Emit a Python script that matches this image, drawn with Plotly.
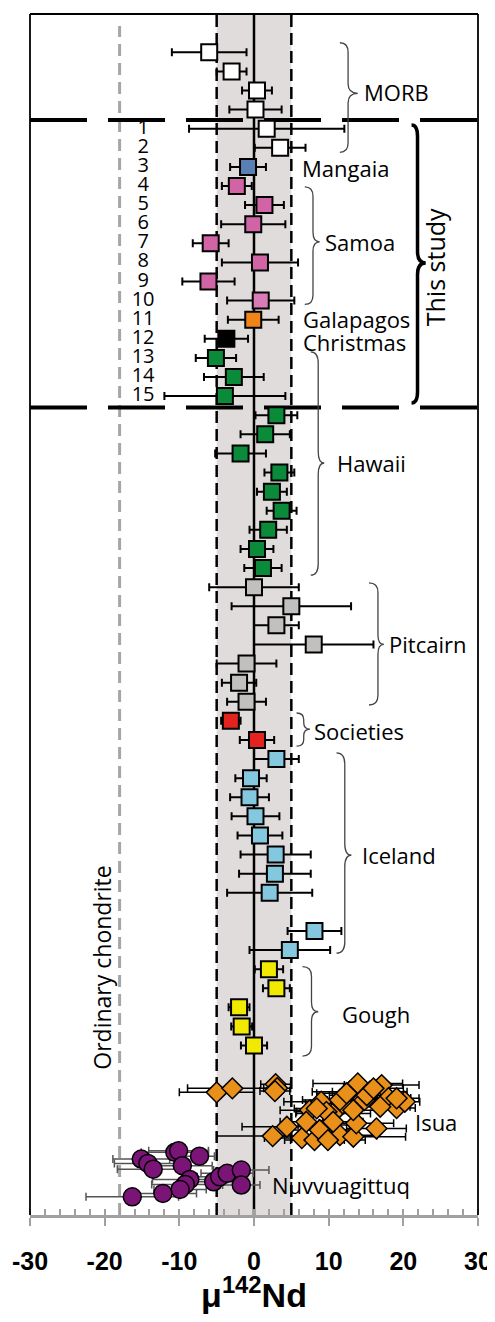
import plotly.graph_objects as go

# ---------------- data (x = mu142Nd, row = vertical position, err = 2SD) -------------
morb_x = [-6.0, -3.0, 0.4, 0.2, 1.7, 3.5]
morb_row = [0, 1, 2, 3, 4, 5]
morb_err = [5.0, 2.0, 2.0, 3.5, 10.4, 3.4]

mangaia_x = [-0.8]
mangaia_row = [6]
mangaia_err = [2.4]

samoa_x = [-2.3, 1.4, -0.1, -5.8, 0.8, -6.1, 0.9]
samoa_row = [7, 8, 9, 10, 11, 12, 13]
samoa_err = [2.0, 2.6, 4.3, 2.4, 5.1, 3.5, 4.5]

galapagos_x = [-0.1]
galapagos_row = [14]
galapagos_err = [3.4]

christmas_x = [-3.7]
christmas_row = [15]
christmas_err = [2.9]

hawaii_x = [-5.1, -2.7, -3.9, 3.0, 1.5, -1.8, 3.4, 2.4, 3.7, 1.9, 0.4, 1.2]
hawaii_row = [16, 17, 18, 19, 20, 21, 22, 23, 24, 25, 26, 27]
hawaii_err = [2.7, 4.0, 8.1, 2.8, 3.3, 3.4, 2.0, 2.0, 2.0, 2.5, 2.2, 2.5]

pitcairn_x = [0.0, 5.0, 3.0, 8.0, -1.0, -2.0, -1.0]
pitcairn_row = [28, 29, 30, 31, 32, 33, 34]
pitcairn_err = [6.0, 8.0, 3.0, 8.0, 4.0, 2.3, 2.6]

societies_x = [-3.1, 0.4]
societies_row = [35, 36]
societies_err = [1.3, 2.3]

iceland_x = [3.0, -0.4, -0.6, 0.2, 0.8, 2.9, 2.8, 2.1, 8.1, 4.8]
iceland_row = [37, 38, 39, 40, 41, 42, 43, 44, 46, 47]
iceland_err = [3.0, 2.1, 2.6, 3.2, 3.0, 4.7, 4.8, 5.7, 3.6, 5.4]

gough_x = [2.0, 3.0, -2.0, -1.65, 0.0]
gough_row = [48, 49, 50, 51, 52]
gough_err = [1.9, 1.8, 1.4, 1.4, 1.75]

isua_x = [-5.0, -2.9, 2.9, 3.1, 2.8, 2.5, 4.4, 6.4, 7.5, 9.0, 8.1, 11.5, 13.3, 16.4,
          12.8, 13.9, 17.1, 18.0, 19.1, 20.2, 16.9, 15.5, 10.6, 9.9, 11.9, 13.7, 14.8,
          8.8, 7.0, 13.3, 9.9, 9.7, 11.5, 12.4, 8.4, 10.6, 15.1, 16.0, 19.1]
isua_row = [54.45, 54.24, 54.02, 54.23, 54.38, 56.74, 56.25, 56.84, 55.38, 54.94, 56.95,
            56.69, 56.77, 56.34, 54.42, 53.98, 54.07, 54.75, 55.27, 54.94, 55.20, 54.42,
            55.55, 56.16, 55.03, 56.07, 54.85, 56.42, 55.99, 55.38, 56.95, 55.47, 54.85,
            54.50, 55.29, 55.99, 54.60, 54.24, 54.76]
isua_err = [5.0, 6.0, 2.0, 1.8, 2.0, 7.5, 6.0, 5.0, 4.0, 5.0, 4.0, 5.0, 7.0, 4.0,
            5.0, 6.0, 5.0, 3.0, 2.5, 2.0, 4.0, 5.0, 5.0, 4.0, 5.0, 5.0, 5.0,
            4.0, 3.5, 4.0, 5.0, 4.0, 5.0, 4.0, 3.0, 4.0, 5.0, 4.0, 3.0]

nuv_x = [-15.1, -14.2, -13.5, -10.6, -10.1, -7.3, -9.6, -8.6, -9.2, -9.9, -12.2, -16.3,
         -5.4, -4.6, -3.6, -1.7, -1.7]
nuv_row = [57.94, 58.17, 58.47, 57.59, 57.51, 57.79, 58.29, 59.01, 59.27, 59.53, 59.74,
           59.92, 59.13, 58.87, 58.69, 58.52, 59.30]
nuv_err = [3.8, 4.5, 4.8, 4.5, 4.0, 2.0, 4.0, 5.0, 4.5, 3.5, 4.5, 6.2, 2.5, 3.0, 3.5, 3.7, 2.5]

sample_numbers = [str(i) for i in range(1, 16)]
sample_rows = list(range(4, 19))

x_ticks = [-30, -20, -10, 0, 10, 20, 30]
chondrite_value = -18
terrestrial_band = (-5, 5)

# ---------------- figure -------------------------------------------------------------
fig = go.Figure()


def squares(x, row, err, color):
    fig.add_trace(go.Scatter(
        x=x, y=row, mode="markers",
        marker=dict(symbol="square", size=16, color=color,
                    line=dict(color="black", width=2)),
        error_x=dict(type="data", array=err, color="black", thickness=2, width=4),
        showlegend=False, hoverinfo="skip"))


squares(morb_x, morb_row, morb_err, "white")
squares(mangaia_x, mangaia_row, mangaia_err, "#5a7fb3")
squares(samoa_x, samoa_row, samoa_err,
        ["#d064a5"] * 6 + ["#d97bb6"])
squares(galapagos_x, galapagos_row, galapagos_err, "#ef8518")
squares(christmas_x, christmas_row, christmas_err, "black")
squares(hawaii_x, hawaii_row, hawaii_err, "#0b8a3a")
squares(pitcairn_x, pitcairn_row, pitcairn_err, "#c2bfbf")
squares(societies_x, societies_row, societies_err, "#e2231f")
squares(iceland_x, iceland_row, iceland_err, "#84c8df")
squares(gough_x, gough_row, gough_err, "#f1ea00")

fig.add_trace(go.Scatter(
    x=isua_x, y=isua_row, mode="markers",
    marker=dict(symbol="diamond", size=16, color="#e8901a",
                line=dict(color="black", width=1.5)),
    error_x=dict(type="data", array=isua_err, color="black", thickness=1.5, width=4),
    showlegend=False, hoverinfo="skip"))

fig.add_trace(go.Scatter(
    x=nuv_x, y=nuv_row, mode="markers",
    marker=dict(symbol="circle", size=18, color="#7a1477",
                line=dict(color="black", width=1.5)),
    error_x=dict(type="data", array=nuv_err, color="#555555", thickness=1.5, width=4),
    showlegend=False, hoverinfo="skip"))

# sample numbers
fig.add_trace(go.Scatter(
    x=[-14.85] * len(sample_numbers), y=sample_rows, mode="text",
    text=sample_numbers, textposition="middle center",
    textfont=dict(family="Open Sans", size=20, color="black"),
    showlegend=False, hoverinfo="skip"))

# ---------------- shapes ------------------------------------------------------------
shapes = []
# horizontal "this study" dashed separators
for yy in (3.54, 18.6):
    shapes.append(dict(type="line", xref="x", yref="y", x0=-30, x1=30, y0=yy, y1=yy,
                       line=dict(color="black", width=4, dash="57px,21px"), layer="below"))
# terrestrial band
shapes.append(dict(type="rect", xref="x", yref="paper", x0=terrestrial_band[0],
                   x1=terrestrial_band[1], y0=0, y1=1, fillcolor="#e0dcdc",
                   line=dict(width=0), layer="below"))
for xx in terrestrial_band:
    shapes.append(dict(type="line", xref="x", yref="paper", x0=xx, x1=xx, y0=0, y1=1,
                       line=dict(color="black", width=2.5, dash="12px,6px"), layer="below"))
shapes.append(dict(type="line", xref="x", yref="paper", x0=0, x1=0, y0=0, y1=1,
                   line=dict(color="black", width=2.5), layer="below"))
shapes.append(dict(type="line", xref="x", yref="paper", x0=chondrite_value,
                   x1=chondrite_value, y0=0, y1=0.99,
                   line=dict(color="#a6a6a6", width=3, dash="12px,7px"), layer="below"))
# frame (left, top, right)
for (a0, b0, a1, b1) in [(0, 0, 0, 1), (0, 1, 1, 1), (1, 0, 1, 1)]:
    shapes.append(dict(type="line", xref="paper", yref="paper", x0=a0, y0=b0, x1=a1, y1=b1,
                       line=dict(color="black", width=1.8)))


def brace(x0, xm, xt, yt, yb, ym, d=0.5, color="#444444", width=1.3):
    p = (f"M {x0},{yt} Q {xm},{yt} {xm},{yt + d} L {xm},{ym - d} "
         f"Q {xm},{ym} {xt},{ym} Q {xm},{ym} {xm},{ym + d} "
         f"L {xm},{yb - d} Q {xm},{yb} {x0},{yb}")
    shapes.append(dict(type="path", xref="x", yref="y", path=p,
                       line=dict(color=color, width=width)))


brace(11.5, 12.6, 13.9, -0.5, 5.24, 2.15)
brace(6.8, 7.9, 8.8, 7.05, 13.2, 9.92)
brace(7.6, 8.6, 9.4, 15.68, 27.37, 21.5, d=0.6)
brace(15.4, 16.6, 17.4, 27.78, 34.17, 31.0)
brace(5.7, 6.66, 7.5, 34.59, 36.32, 35.43, d=0.35)
brace(11.05, 12.16, 13.05, 36.68, 47.16, 42.03, d=0.6)
brace(6.5, 7.7, 8.6, 47.87, 52.55, 50.23)
brace(21.1, 21.9, 23.0, 3.81, 18.36, 11.03, d=0.6, color="black", width=3.5)

# ---------------- annotations -------------------------------------------------------
ann = []
labels = [("MORB", 14.4, 2.09), ("Mangaia", 6.13, 6.06), ("Samoa", 9.25, 9.92),
          ("Galapagos", 6.35, 13.98), ("Christmas", 6.35, 15.15), ("Hawaii", 10.8, 21.5),
          ("Pitcairn", 17.8, 31.0), ("Societies", 7.83, 35.52), ("Iceland", 14.26, 42.0),
          ("Gough", 11.5, 50.35), ("Isua", 21.27, 56.0), ("Nuvvuagittuq", 2.1, 59.3)]
for t, xx, yy in labels:
    ann.append(dict(text=t, x=xx, y=yy, xref="x", yref="y", xanchor="left",
                    yanchor="middle", showarrow=False,
                    font=dict(family="Open Sans", size=22, color="black")))
ann.append(dict(text="This study", x=24.2, y=11.27, xref="x", yref="y", textangle=-90,
                showarrow=False, xanchor="center", yanchor="middle",
                font=dict(family="Open Sans", size=25, color="black")))
ann.append(dict(text="Ordinary chondrite", x=-20.3, y=47.9, xref="x", yref="y",
                textangle=-90, showarrow=False, xanchor="center", yanchor="middle",
                font=dict(family="Open Sans", size=23, color="black")))

# the page body has an 8px margin: the figure is sized so that the plot sits where
# the reference's plot area is (x 30..478, y 14..1215 in page pixels)
fig.update_layout(
    width=487, height=1306,
    margin=dict(l=22, r=17, t=6, b=99),
    paper_bgcolor="white", plot_bgcolor="white",
    shapes=shapes, annotations=ann,
    xaxis=dict(range=[-30, 30], tickvals=x_ticks, ticktext=[str(v) for v in x_ticks],
               automargin=False,
               showgrid=False, zeroline=False, showline=True, linecolor="#a0a0a0",
               linewidth=2.5, ticks="outside", ticklen=8, tickwidth=2,
               tickcolor="#a0a0a0", ticklabelstandoff=14,
               tickfont=dict(family="Liberation Sans", size=25, color="black",
                             weight="bold"),
               minor=dict(dtick=2, ticks="inside", ticklen=6, tickwidth=1.5,
                          tickcolor="#a0a0a0", showgrid=False),
               title=dict(text="<b>μ<sup>142</sup>Nd</b>", standoff=10,
                          font=dict(family="Liberation Sans", size=34, color="black"))),
    yaxis=dict(range=[60.87, -2.005], visible=False, showgrid=False, zeroline=False,
               automargin=False),
)

fig.write_html("out.html")
